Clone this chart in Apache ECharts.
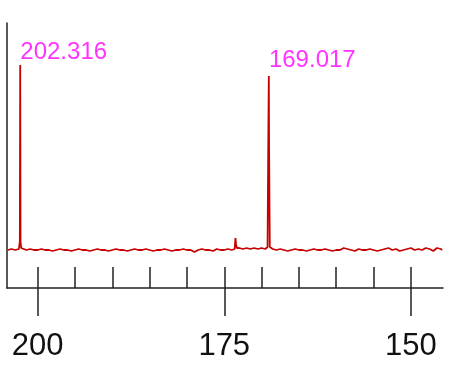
<!DOCTYPE html>
<html>
<head>
<meta charset="utf-8">
<script src="https://cdn.jsdelivr.net/npm/echarts@6/dist/echarts.min.js"></script>
<style>html,body{margin:0;padding:0;background:#fff}#c{width:453px;height:368px}</style>
</head>
<body>
<div id="c"></div>
<script>
// spectrum (ppm, intensity)
const ppm = [204.0,203.5,203.0,202.5,202.38,202.33,202.29,202.2,202.0,201.5,201.0,200.5,200.0,199.5,199.0,198.5,198.0,197.5,197.0,196.5,196.0,195.5,195.0,194.5,194.0,193.5,193.0,192.5,192.0,191.5,191.0,190.5,190.0,189.5,189.0,188.5,188.0,187.5,187.0,186.5,186.0,185.5,185.0,184.5,184.0,183.5,183.0,182.5,182.0,181.5,181.0,180.5,180.0,179.5,179.0,178.5,178.0,177.5,177.0,176.5,176.0,175.5,175.0,174.5,174.0,173.6,173.5,173.42,173.3,173.0,172.5,172.0,171.5,171.0,170.5,170.0,169.5,169.25,169.2,169.1,169.06,169.03,169.0,168.9,168.8,168.5,168.0,167.5,167.0,166.5,166.0,165.5,165.0,164.5,164.0,163.5,163.0,162.5,162.0,161.5,161.0,160.5,160.0,159.5,159.0,158.5,158.0,157.5,157.0,156.5,156.0,155.5,155.0,154.5,154.0,153.5,153.0,152.5,152.0,151.5,151.0,150.5,150.0,149.5,149.0,148.5,148.0,147.5,147.0,146.5,146.0,145.8];
const intensity = [0,1,0,1,9,185,8,2,1,0,1,0,0,1,0,0,-1,0,1,0,0,-1,0,1,0,0,-1,0,1,0,0,-1,0,1,0,0,-1,0,1,0,0,1,0,-1,0,0,1,0,-1,0,0,1,0,0,-2,0,1,0,0,-1,1,0,0,1,0,1,12,5,2,2,1,2,1,2,1,2,1,2,3,108,108,174,108,3,1,1,0,1,0,-1,0,1,0,0,-1,0,1,0,0,1,0,-1,0,0,2,1,0,-1,1,0,0,1,0,-1,0,1,2,0,1,-1,0,1,2,0,1,0,2,1,-1,2,1,0,1];
const peakPpm = [202.316, 169.017];
const peakHeight = [185, 174];
const peakLabels = ['202.316', '169.017'];
const majorTicks = [200, 175, 150];
const minorTicks = [200, 195, 190, 185, 180, 175, 170, 165, 160, 155, 150];

const lineData = ppm.map((p, i) => [p, intensity[i]]);
const labelDist = [1, 4];
const peakData = peakPpm.map((p, i) => ({
  value: [p, peakHeight[i]],
  name: peakLabels[i],
  label: { distance: labelDist[i] }
}));

const axisColor = '#222';
const chart = echarts.init(document.getElementById('c'), null, { renderer: 'canvas' });
chart.setOption({
  animation: false,
  backgroundColor: '#fff',
  grid: { left: 7, right: 10, top: 23, bottom: 80 },
  xAxis: [
    {
      type: 'value', inverse: true, min: 145.7, max: 204.1, position: 'bottom',
      axisLine: { show: true, onZero: false, lineStyle: { color: axisColor, width: 1.5 } },
      axisTick: { show: true, inside: true, length: 21, customValues: minorTicks, lineStyle: { color: axisColor, width: 1.5 } },
      axisLabel: { show: false, customValues: minorTicks },
      splitLine: { show: false }
    },
    {
      type: 'value', inverse: true, min: 145.7, max: 204.1, position: 'bottom',
      axisLine: { show: false, onZero: false },
      axisTick: { show: true, inside: false, length: 28, customValues: majorTicks, lineStyle: { color: axisColor, width: 1.5 } },
      axisLabel: { show: true, customValues: majorTicks, margin: 43, color: '#111', fontSize: 31, fontFamily: 'Liberation Sans, Arial, sans-serif' },
      splitLine: { show: false }
    }
  ],
  yAxis: {
    type: 'value', min: -38, max: 227,
    axisLine: { show: true, onZero: false, lineStyle: { color: axisColor, width: 1.5 } },
    axisTick: { show: false }, axisLabel: { show: false }, splitLine: { show: false }
  },
  series: [
    {
      type: 'line', data: lineData, showSymbol: false, symbol: 'none',
      lineStyle: { color: '#c80000', width: 1.8 }, xAxisIndex: 0
    },
    {
      type: 'scatter', data: peakData, symbolSize: 0, xAxisIndex: 0,
      label: {
        show: true, position: 'top', align: 'left', formatter: p => p.name,
        color: '#ff00ff', fontSize: 24, fontFamily: 'Liberation Sans, Arial, sans-serif'
      }
    }
  ]
});
</script>
</body>
</html>
